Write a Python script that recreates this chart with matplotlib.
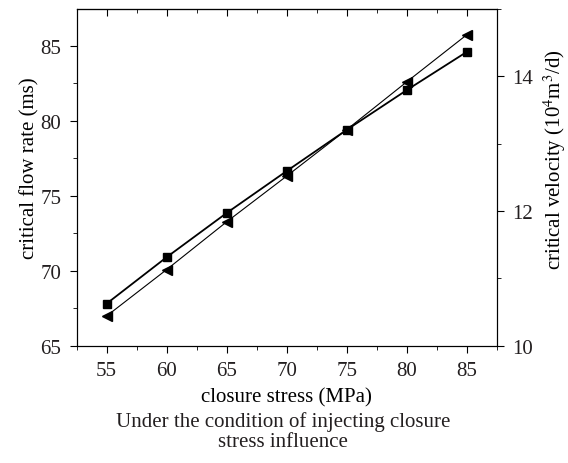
import numpy as np
import matplotlib.pyplot as plt
from matplotlib.ticker import MultipleLocator

plt.rcParams['font.family'] = ['Liberation Serif', 'DejaVu Serif']
plt.rcParams['mathtext.fontset'] = 'stix'
plt.rcParams['text.color'] = '#231f20'
plt.rcParams['xtick.labelcolor'] = '#231f20'
plt.rcParams['ytick.labelcolor'] = '#231f20'

## Data
stress = [55, 60, 65, 70, 75, 80, 85]
flow_rate = [67.8, 70.9, 73.85, 76.65, 79.4, 82.05, 84.6]   # left axis
velocity = [10.44, 11.13, 11.84, 12.52, 13.21, 13.92, 14.62]  # right axis

FS = 15

fig = plt.figure(figsize=(5.68, 4.64), dpi=100)
ax = fig.add_axes([0.1347, 0.2528, 0.7403, 0.7256])
ax2 = ax.twinx()

ax.plot(stress, flow_rate, color='black', marker='s', markersize=6, linewidth=1.3)
ax2.plot(stress, velocity, color='black', marker='<', markersize=6.5, linewidth=0.8)

ax.set_xlim(52.5, 87.5)
ax.set_ylim(65, 87.45)
ax2.set_ylim(10, 15)

ax.xaxis.set_major_locator(MultipleLocator(5))
ax.xaxis.set_minor_locator(MultipleLocator(2.5))
ax.yaxis.set_major_locator(MultipleLocator(5))
ax.yaxis.set_minor_locator(MultipleLocator(2.5))
ax2.yaxis.set_major_locator(MultipleLocator(2))
ax2.yaxis.set_minor_locator(MultipleLocator(1))

for a in (ax, ax2):
    a.tick_params(which='both', direction='out', labelsize=FS, pad=6)
    a.tick_params(which='major', length=5)
    a.tick_params(which='minor', length=3)
ax.tick_params(axis='y', right=False)

# top spine ticks point inward, no labels
top = ax.secondary_xaxis('top')
top.xaxis.set_major_locator(MultipleLocator(5))
top.xaxis.set_minor_locator(MultipleLocator(2.5))
top.tick_params(which='both', direction='in', labeltop=False)
top.tick_params(which='major', length=5)
top.tick_params(which='minor', length=3)

ax.set_xlabel('closure stress (MPa)', fontsize=FS, labelpad=5)
ax.set_ylabel('critical flow rate (ms)', fontsize=FS)
ax2.set_ylabel('critical velocity (10$^4$m$^3$/d)', fontsize=FS)
ax.yaxis.set_label_coords(-0.087, 0.53)
ax2.yaxis.set_label_coords(1.105, 0.557)

fig.text(283 / 568, 1 - 452 / 464,
         'Under the condition of injecting closure\nstress influence',
         ha='center', va='bottom', fontsize=FS, linespacing=1.05)

fig.savefig('out.png', dpi=100)
